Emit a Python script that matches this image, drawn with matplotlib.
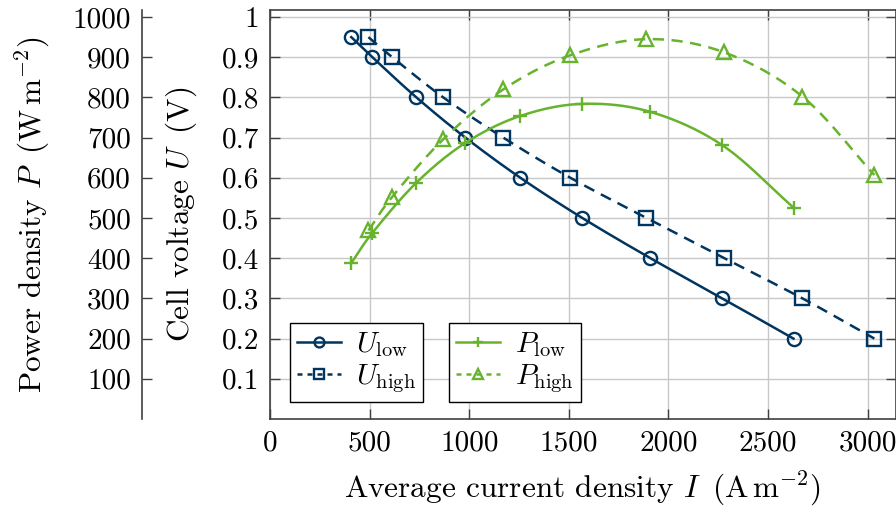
import numpy as np
import matplotlib
matplotlib.use("Agg")
import matplotlib.pyplot as plt

plt.rcParams["font.family"] = "serif"
plt.rcParams["font.serif"] = ["cmr10"]
plt.rcParams["mathtext.fontset"] = "cm"
plt.rcParams["axes.unicode_minus"] = False
plt.rcParams["font.size"] = 21

# polarisation data: current density (A/m^2), cell voltage (V), power density (W/m^2)
I_low = [408, 514, 735, 981, 1257, 1568, 1910, 2271, 2628]
U_low = [0.95, 0.9, 0.8, 0.7, 0.6, 0.5, 0.4, 0.3, 0.2]
P_low = [388, 463, 588, 687, 754, 784, 764, 681, 526]

I_high = [494, 614, 870, 1171, 1508, 1890, 2281, 2673, 3034]
U_high = [0.95, 0.9, 0.8, 0.7, 0.6, 0.5, 0.4, 0.3, 0.2]
P_high = [469, 553, 696, 820, 905, 945, 912, 802, 607]

x_ticks = [0, 500, 1000, 1500, 2000, 2500, 3000]
u_ticks = [0.1, 0.2, 0.3, 0.4, 0.5, 0.6, 0.7, 0.8, 0.9, 1.0]
u_labels = ["0.1", "0.2", "0.3", "0.4", "0.5", "0.6", "0.7", "0.8", "0.9", "1"]
p_ticks = [100, 200, 300, 400, 500, 600, 700, 800, 900, 1000]

blue = "#003560"
green = "#67b32e"


def smooth(x, y, n=20):
    # Catmull-Rom spline through the points, for a smooth drawn line
    x = np.asarray(x, float)
    y = np.asarray(y, float)
    px = np.concatenate([[2 * x[0] - x[1]], x, [2 * x[-1] - x[-2]]])
    py = np.concatenate([[2 * y[0] - y[1]], y, [2 * y[-1] - y[-2]]])
    xs, ys = [], []
    t = np.linspace(0, 1, n, endpoint=False)
    for i in range(1, len(px) - 2):
        for arr, out in ((px, xs), (py, ys)):
            p0, p1, p2, p3 = arr[i - 1:i + 3]
            out.extend(0.5 * (2 * p1 + (-p0 + p2) * t
                              + (2 * p0 - 5 * p1 + 4 * p2 - p3) * t ** 2
                              + (-p0 + 3 * p1 - 3 * p2 + p3) * t ** 3))
    xs.append(x[-1])
    ys.append(y[-1])
    return np.array(xs), np.array(ys)


fig = plt.figure(figsize=(8.96, 5.07), dpi=100)
pos = [270 / 896, 1 - 419 / 507, 625.5 / 896, 409 / 507]
ax = fig.add_axes(pos)
axp = fig.add_axes(pos)
axp.patch.set_visible(False)
ax.set_zorder(2)
ax.patch.set_visible(False)

umax = 1.0175
xmax = 3140

lw = 1.8
ms = 9.5
mew = 1.7


def series(x, y, color, ls, marker, scale=1.0):
    sx, sy = smooth(x, np.asarray(y) / scale)
    ax.plot(sx, sy, color=color, ls=ls, lw=lw, dashes=(4.5, 3) if ls == "--" else (None, None))
    ax.plot(x, np.asarray(y) / scale, ls="none", marker=marker, ms=ms,
            mec=color, mfc="none", mew=mew)
    h, = ax.plot([], [], color=color, ls=ls, lw=lw, marker=marker, ms=ms * 0.75,
                 mec=color, mfc="none", mew=mew,
                 **({"dashes": (2, 2)} if ls == "--" else {}))
    return h


h1 = series(I_low, U_low, blue, "-", "o")
h2 = series(I_high, U_high, blue, "--", "s")
h3 = series(I_low, P_low, green, "-", "+", scale=1000)
h4 = series(I_high, P_high, green, "--", "^", scale=1000)

ax.set_xlim(0, xmax)
ax.set_ylim(0, umax)
ax.set_xticks(x_ticks)
ax.set_xticklabels([str(v) for v in x_ticks])
ax.set_yticks(u_ticks)
ax.set_yticklabels(u_labels)
ax.grid(True, color="#c8c8c8", lw=1)
ax.tick_params(direction="in", length=7, width=1, top=True, right=True,
               pad=8, color="#404040")
for s in ax.spines.values():
    s.set_linewidth(1.2)
    s.set_color("#404040")
ax.set_xlabel(r"Average current density $I$ $\,(\mathrm{A\,m^{-2}})$",
              fontsize=22.5, labelpad=9)
ax.set_ylabel(r"Cell voltage $U$ $\,(\mathrm{V})$", fontsize=22.5, labelpad=16)

# separate power density axis, offset to the left
axp.set_ylim(0, umax * 1000)
axp.set_xlim(0, xmax)
axp.set_yticks(p_ticks)
axp.set_yticklabels([str(v) for v in p_ticks])
axp.set_xticks([])
for side in ("top", "right", "bottom"):
    axp.spines[side].set_visible(False)
axp.spines["left"].set_position(("outward", 128 * 0.72))
axp.spines["left"].set_linewidth(1.2)
axp.spines["left"].set_color("#404040")
axp.tick_params(axis="y", direction="in", length=7, width=1, pad=8, color="#404040")
axp.set_ylabel(r"Power density $P$ $\,(\mathrm{W\,m^{-2}})$", fontsize=22.5, labelpad=15)

leg_kw = dict(frameon=True, fancybox=False, edgecolor="black", framealpha=1,
              handlelength=1.5, handletextpad=0.5, borderpad=0.25,
              labelspacing=0.1, borderaxespad=0, fontsize=21)
leg1 = ax.legend([h1, h2], [r"$U_\mathrm{low}$", r"$U_\mathrm{high}$"],
                 loc="lower left", bbox_to_anchor=(0.032, 0.0416), **leg_kw)
leg1.get_frame().set_linewidth(1)
ax.add_artist(leg1)
leg2 = ax.legend([h3, h4], [r"$P_\mathrm{low}$", r"$P_\mathrm{high}$"],
                 loc="lower left", bbox_to_anchor=(0.286, 0.0416), **leg_kw)
leg2.get_frame().set_linewidth(1)

fig.savefig("out.png", dpi=100)
